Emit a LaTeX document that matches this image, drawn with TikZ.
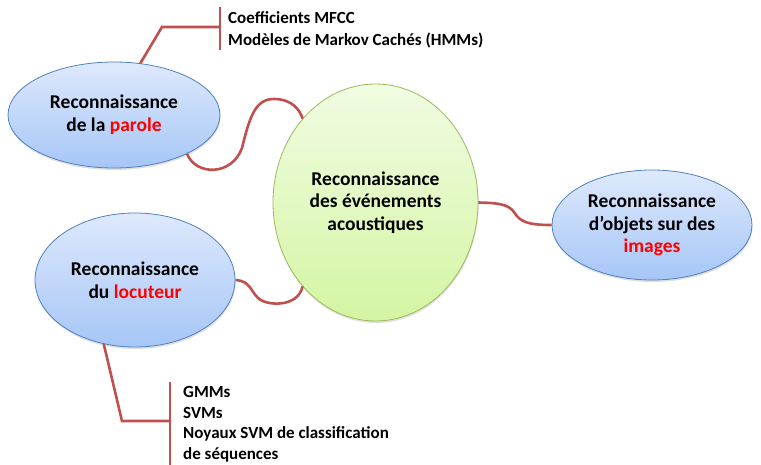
\documentclass[tikz,border=0pt]{standalone}
\usepackage{fontspec}
\setmainfont{Carlito}
\usetikzlibrary{shapes.geometric,shadows}
\definecolor{conn}{HTML}{C0504D}
\definecolor{bborder}{HTML}{4F81BD}
\definecolor{btop}{HTML}{DEE9FC}
\definecolor{bbot}{HTML}{A6C6F7}
\definecolor{gborder}{HTML}{9BBB59}
\definecolor{gtop}{HTML}{F1FCE2}
\definecolor{gbot}{HTML}{D4F5A3}
\definecolor{hl}{HTML}{FF0000}
\tikzset{
  bubble/.style={ellipse, draw=bborder, line width=0.8pt, top color=btop, bottom color=bbot,
    inner sep=0pt, align=center, font=\bfseries\fontsize{19.5}{22.8}\selectfont,
    drop shadow={opacity=0.25, shadow xshift=0.5pt, shadow yshift=-2pt}},
  gbubble/.style={bubble, draw=gborder, top color=gtop, bottom color=gbot},
  link/.style={draw=conn, line width=2.6pt},
  listtext/.style={anchor=north west, inner sep=0pt, align=left, font=\bfseries\fontsize{17}{22}\selectfont}
}
\begin{document}
\begin{tikzpicture}[x=1pt,y=-1pt]
\useasboundingbox (0,0) rectangle (761,465);
% ellipses
\node[bubble, minimum width=212pt, minimum height=106pt] (parole) at (114,115) {Reconnaissance\\de la \textcolor{hl}{parole}};
\node[gbubble, minimum width=205pt, minimum height=237pt] (center) at (375.5,202.5) {Reconnaissance\\des événements\\acoustiques};
\node[bubble, minimum width=200pt, minimum height=110pt] (images) at (652,225) {Reconnaissance\\d’objets sur des\\\textcolor{hl}{images}};
\node[bubble, minimum width=200pt, minimum height=134pt] (loc) at (135,280) {Reconnaissance\\du \textcolor{hl}{locuteur}};
% lists
\node[listtext] (top) at (228,11) {Coefficients MFCC\\Modèles de Markov Cachés (HMMs)};
\node[listtext, font=\bfseries\fontsize{17}{20.5}\selectfont] (bot) at (183,386.5) {GMMs\\SVMs\\Noyaux SVM de classification\\de séquences};
\coordinate (tb) at (220,27);
\coordinate (bb) at (170,421);
% connectors
\draw[link] (parole.63) -- (162,27) -- (tb);
\draw[link] (tb |- 0,7) -- (tb |- 0,50);
\draw[link] (loc.244) -- (122,421) -- (bb);
\draw[link] (bb |- 0,382) -- (bb |- 0,465);
\draw[link] (parole.-28) .. controls (196,176) and (232,176) .. (242,148)
  .. controls (250,115) and (256,99) .. (274,99)
  .. controls (292,99) and (300,110) .. (center.131);
\draw[link] (center.east) .. controls (498,203) and (508,204) .. (514,212)
  .. controls (520,222) and (528,225) .. (images.west);
\draw[link] (loc.east) .. controls (250,281) and (250,290) .. (258,298)
  .. controls (266,306) and (298,308) .. (center.-131);
\end{tikzpicture}
\end{document}
